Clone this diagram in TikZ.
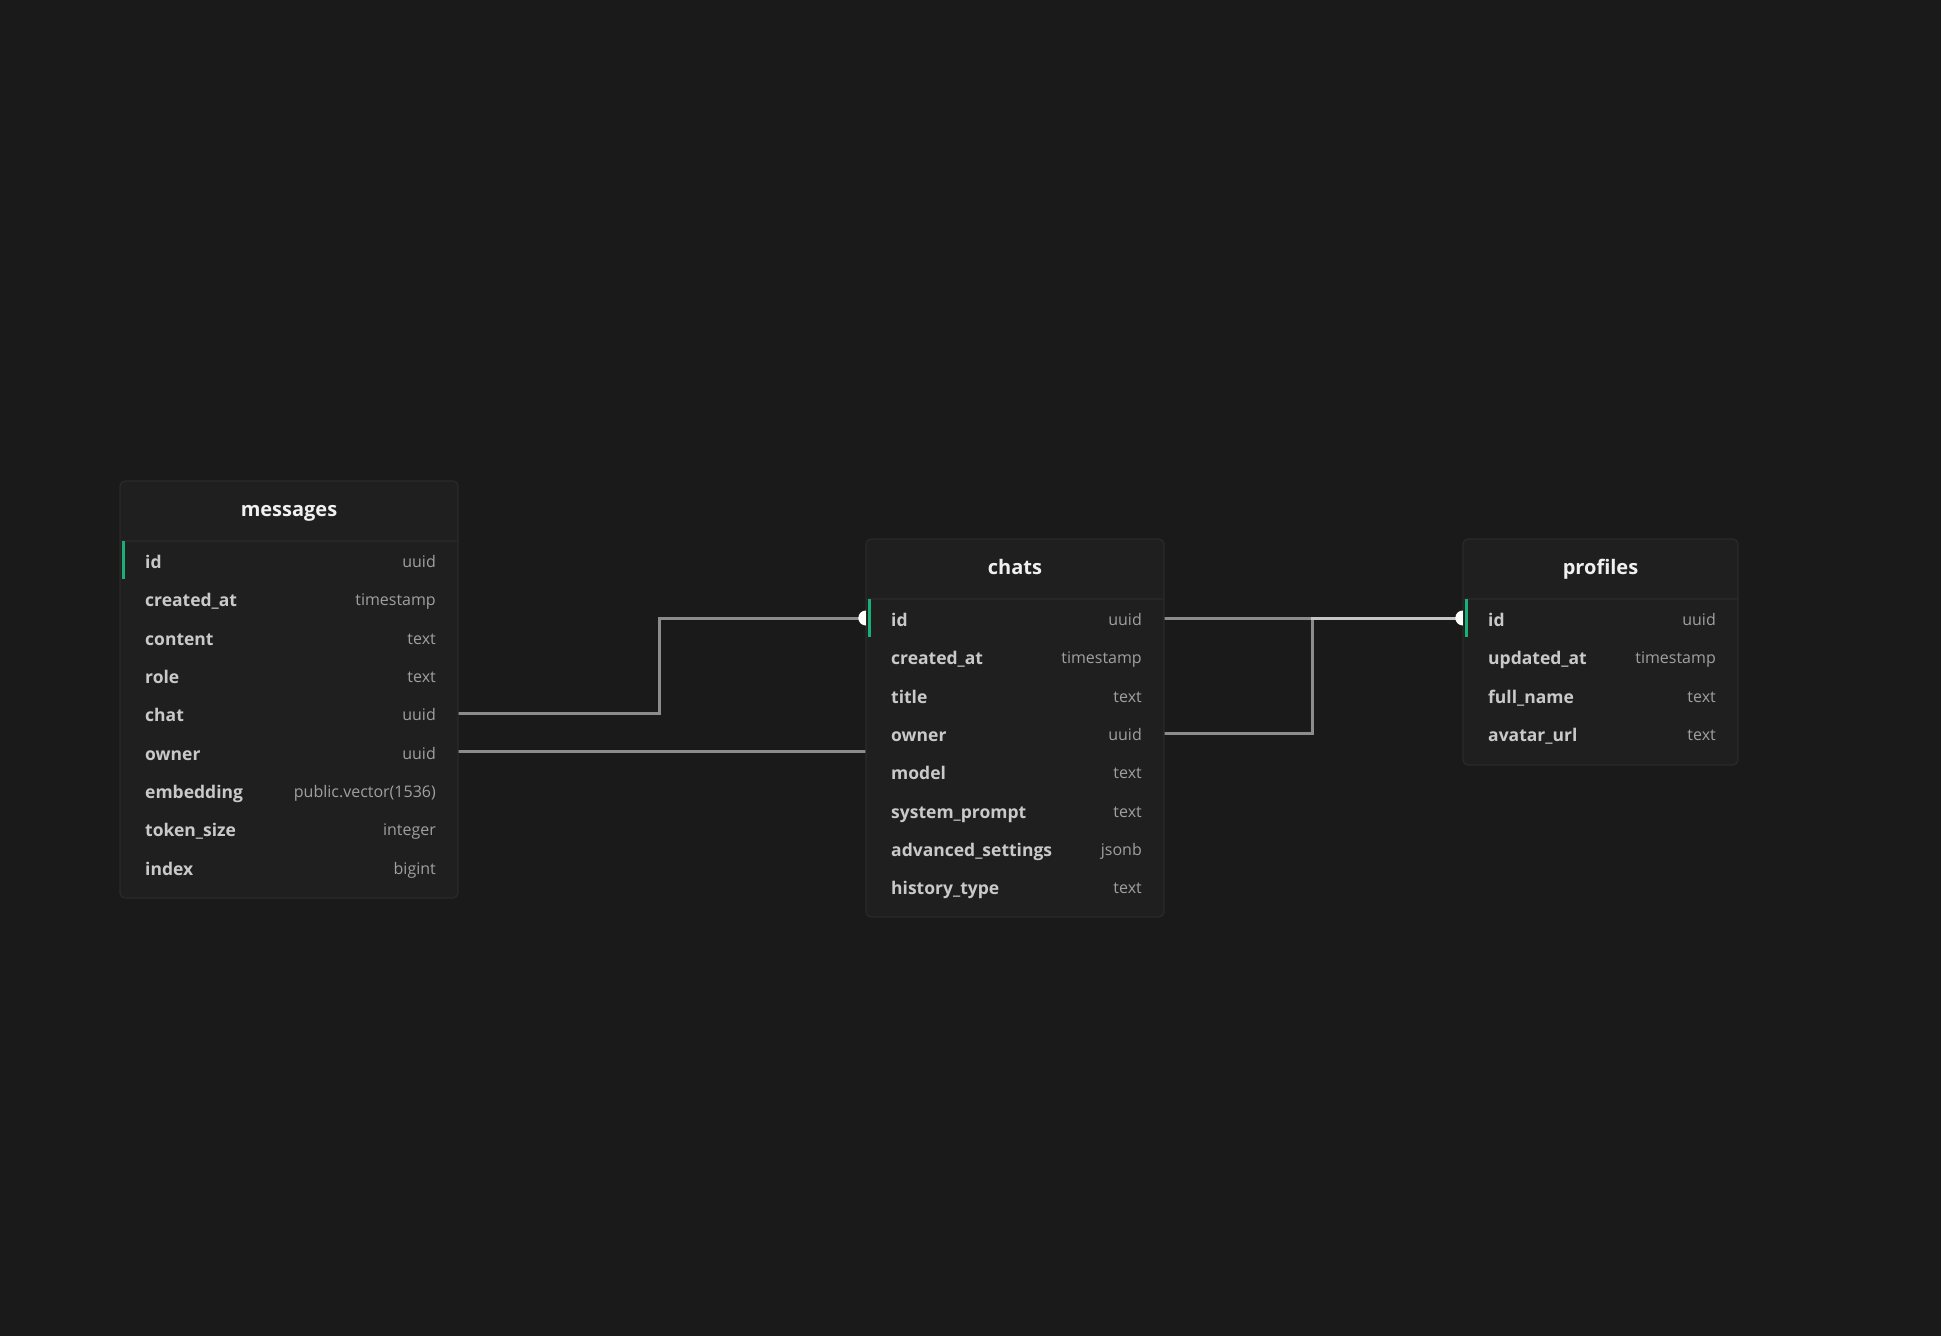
\documentclass[tikz,border=0pt]{standalone}
\usepackage{fontspec}
\setmainfont{Open Sans}
\definecolor{bgc}{HTML}{1A1A1A}
\definecolor{tblfill}{HTML}{1F1F1F}
\definecolor{tblline}{HTML}{2A2A2A}
\definecolor{sepline}{HTML}{262626}
\definecolor{titlec}{HTML}{F0F0F0}
\definecolor{namec}{HTML}{C9C9C9}
\definecolor{typec}{HTML}{A0A0A0}
\definecolor{pkgreen}{RGB}{24,175,120}
\pgfdeclarelayer{bglayer}
\pgfdeclarelayer{connlayer}
\pgfsetlayers{bglayer,connlayer,main}
\tikzset{
  tblbox/.style={fill=tblfill,draw=tblline,line width=1.2pt,rounded corners=5pt},
  titlelbl/.style={text=titlec,font=\bfseries\fontsize{20}{24}\selectfont,inner sep=0pt,anchor=base},
  namelbl/.style={text=namec,font=\bfseries\fontsize{17.5}{21}\selectfont,inner sep=0pt,anchor=base west},
  typelbl/.style={text=typec,font=\fontsize{16}{19}\selectfont,inner sep=0pt,anchor=base east},
  rowbox/.style={inner sep=0pt,minimum height=38pt},
  conn/.style={draw=white,draw opacity=0.5,line width=3pt},
}
\newcommand{\erdtable}[7]{%
  \draw[tblbox] (#3,#4) rectangle (#5,#6);
  \node[titlelbl] (#1-title) at ({(#3+#5)/2},{#4+35}) {#2};
  \draw[sepline,line width=1.2pt] (#3,{#4+60}) -- (#5,{#4+60});
  \foreach \fn/\ft [count=\i from 0] in {#7} {
    \node[rowbox,minimum width={#5pt-#3pt}] (#1-\i) at ({(#3+#5)/2},{#4+79+38.35*\i}) {};
    \node[namelbl] (#1-\i-n) at ({#3+25},{#4+79+38.35*\i+8.5}) {\fn};
    \node[typelbl] (#1-\i-t) at ({#5-22},{#4+79+38.35*\i+7.5}) {\ft};
  }
  \fill[pkgreen] ({#3+2},{#4+60}) rectangle ({#3+5},{#4+98});
}
\begin{document}
\begin{tikzpicture}[x=1pt,y=-1pt]
\begin{pgfonlayer}{bglayer}
\fill[bgc] (0,0) rectangle (1941,1336);
\end{pgfonlayer}
\useasboundingbox (0,0) rectangle (1941,1336);

\erdtable{m}{messages}{120}{481}{458}{898}{id/uuid,created\_at/timestamp,content/text,role/text,chat/uuid,owner/uuid,embedding/public.vector(1536),token\_size/integer,index/bigint}
\erdtable{c}{chats}{866}{539}{1164}{917}{id/uuid,created\_at/timestamp,title/text,owner/uuid,model/text,system\_prompt/text,advanced\_settings/jsonb,history\_type/text}
\erdtable{p}{profiles}{1463}{539}{1738}{765}{id/uuid,updated\_at/timestamp,full\_name/text,avatar\_url/text}

\begin{pgfonlayer}{connlayer}
\draw[conn] (m-4.east) -- ++(201,0) |- (c-0.west);
\draw[conn] (m-5.east) -- ++(552,0) |- (p-0.west);
\draw[conn] (c-3.east) -- ++(148,0) |- (p-0.west);
\end{pgfonlayer}

\begin{scope}
  \clip (c-0.west) ++(-9,-9) rectangle ++(9,18);
  \fill[white] (c-0.west) circle[radius=7.5pt];
\end{scope}
\begin{scope}
  \clip (p-0.west) ++(-9,-9) rectangle ++(9,18);
  \fill[white] (p-0.west) circle[radius=7.5pt];
\end{scope}
\end{tikzpicture}
\end{document}
